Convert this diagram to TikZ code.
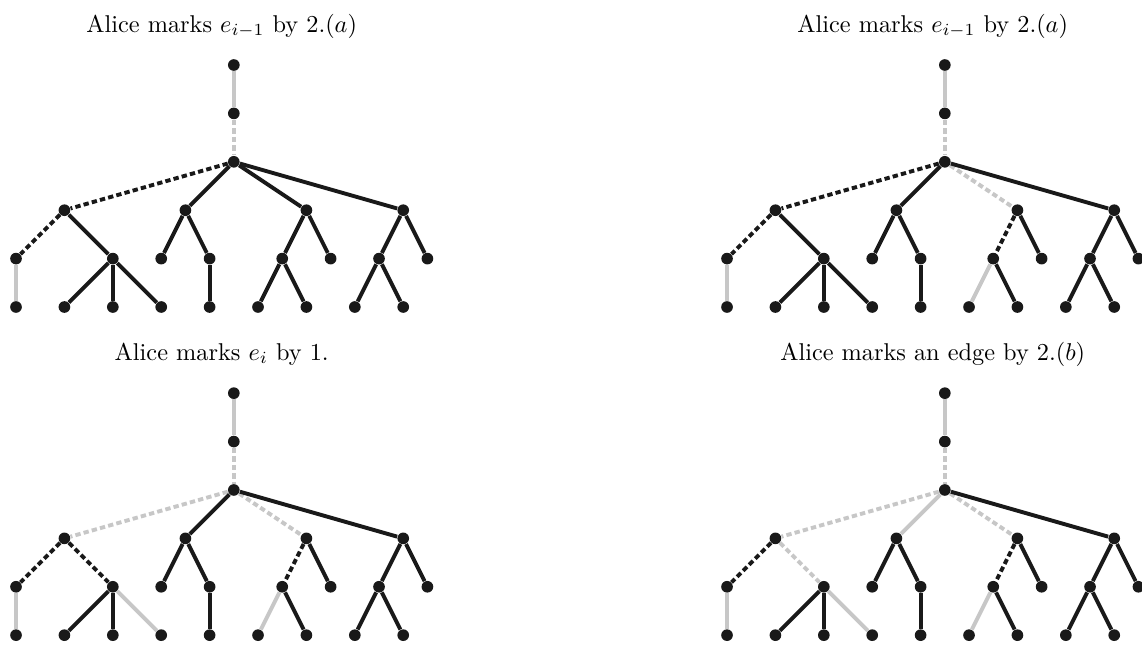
\documentclass[tikz,border=0pt]{standalone}
\usetikzlibrary{positioning}
\colorlet{colArista}{black!90}
\colorlet{colGrisClaro}{black!22}
\tikzset{
  vertice/.style={circle, fill=colArista, inner sep=0pt, minimum size=4.8pt},
  aristaN/.style={line width=1.6pt, colArista},
  aristaG/.style={line width=1.6pt, colGrisClaro},
  aristaNP/.style={aristaN, dash pattern=on 2.2pt off 1.3pt},
  aristaGP/.style={aristaG, dash pattern=on 2.2pt off 1.3pt},
  titulo/.style={anchor=base, font=\normalsize},
}
% #1 desplazamiento, #2 prefijo, #3..#9 estilos de las aristas que cambian
\newcommand\arbol[9]{%
  \begin{scope}[shift={#1}]
    \foreach \n/\x/\y in {t/4.5/5, s/4.5/4, r/4.5/3,
        a/1/2, b/3.5/2, c/6/2, d/8/2,
        a1/0/1, a2/2/1, b1/3/1, b2/4/1, c1/5.5/1, c2/6.5/1, d1/7.5/1, d2/8.5/1,
        a11/0/0, a21/1/0, a22/2/0, a23/3/0, b21/4/0,
        c11/5/0, c12/6/0, d11/7/0, d12/8/0}
      \node[vertice] (#2\n) at (\x,\y) {};
    \draw[aristaG] (#2t) -- (#2s);
    \draw[aristaGP] (#2s) -- (#2r);
    \draw[#3] (#2r) -- (#2a);
    \draw[#4] (#2r) -- (#2b);
    \draw[#5] (#2r) -- (#2c);
    \draw[aristaNP] (#2a) -- (#2a1);
    \draw[#6] (#2a) -- (#2a2);
    \draw[aristaG] (#2a1) -- (#2a11);
    \draw[#7] (#2a2) -- (#2a23);
    \draw[#8] (#2c) -- (#2c1);
    \draw[#9] (#2c1) -- (#2c11);
    \foreach \p/\h in {r/d, a2/a21, a2/a22, b/b1, b/b2, b2/b21,
        c/c2, c1/c12, d/d1, d/d2, d1/d11, d1/d12}
      \draw[aristaN] (#2\p) -- (#2\h);
  \end{scope}
}
\begin{document}
\begin{tikzpicture}[x=0.7cm, y=0.7cm]
  \useasboundingbox (-0.331,-7.004) rectangle (23.264,6.343);
  % arriba
  \arbol{(0,0)}{A-}{aristaNP}{aristaN}{aristaN}{aristaN}{aristaN}{aristaN}{aristaN}
  \arbol{(14.69,0)}{B-}{aristaNP}{aristaN}{aristaGP}{aristaN}{aristaN}{aristaNP}{aristaG}
  % abajo
  \arbol{(0,-6.78)}{C-}{aristaGP}{aristaN}{aristaGP}{aristaNP}{aristaG}{aristaNP}{aristaG}
  \arbol{(14.69,-6.78)}{D-}{aristaGP}{aristaG}{aristaGP}{aristaGP}{aristaG}{aristaNP}{aristaG}

  \node[titulo] (tituloA) at (4.25,5.68) {Alice marks $e_{i-1}$ by 2.$(a)$};
  \node[titulo] (tituloB) at (18.94,5.68) {Alice marks $e_{i-1}$ by 2.$(a)$};
  \node[titulo] (tituloC) at (4.25,-1.10) {Alice marks $e_i$ by 1.};
  \node[titulo] (tituloD) at (18.94,-1.10) {Alice marks an edge by 2.$(b)$};
\end{tikzpicture}
\end{document}
